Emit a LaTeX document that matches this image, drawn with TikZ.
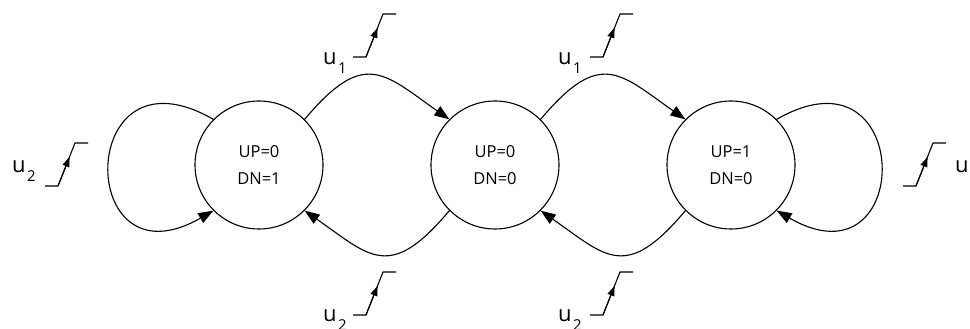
\documentclass[tikz,border=0pt]{standalone}
\usepackage{fontspec}
\setmainfont{Open Sans}
\usetikzlibrary{arrows.meta}
\newcommand\subf{\fontsize{15}{15}\selectfont}
\tikzset{
  state/.style={draw, circle, line width=1.1pt, minimum size=128pt, inner sep=0pt,
    align=center, font=\fontsize{16.5}{27}\selectfont},
  tr/.style={line width=1.1pt, -{Triangle[length=15pt,width=11pt]}},
  loopline/.style={line width=1.1pt, -{Triangle[length=15pt,width=11pt]}},
  lbl/.style={inner sep=0pt, anchor=base west, font=\fontsize{22}{22}\selectfont},
  edgesym/.pic={
    \draw[line width=1.1pt] (0,0) -- (13,0) -- (30,43) -- (43,43);
    \draw[line width=1.1pt, -{Triangle[length=10pt,width=7pt]}] (13,0) -- (24.6,29.2);
  }
}
\begin{document}
\begin{tikzpicture}[x=1pt,y=1pt]
\useasboundingbox (0,0) rectangle (970,329);
\node[state] (s1) at (259,164) {UP=0\\DN=1};
\node[state] (s2) at (495,164) {UP=0\\DN=0};
\node[state] (s3) at (731,164) {UP=1\\DN=0};
% transitions
\draw[tr] (s1.45) to[out=50,in=145,out distance=93pt,in distance=80pt] (s2.135);
\draw[tr] (s2.45) to[out=50,in=145,out distance=93pt,in distance=80pt] (s3.135);
\draw[tr] (s2.225) to[out=230,in=-35,out distance=93pt,in distance=80pt] (s1.-45);
\draw[tr] (s3.225) to[out=230,in=-35,out distance=93pt,in distance=80pt] (s2.-45);
\draw[loopline] (s1.135) to[out=150,in=210,distance=160pt] (s1.225);
\draw[loopline] (s3.45) to[out=30,in=-30,distance=160pt] (s3.-45);
% input symbols
\pic at (353,272) {edgesym};
\pic at (590,272) {edgesym};
\pic at (353,14) {edgesym};
\pic at (590,14) {edgesym};
\pic at (45,143) {edgesym};
\pic at (903,143) {edgesym};
% labels
\node[lbl] (l1) at (323,264) {u\kern1.5pt\raisebox{-9pt}{\subf 1}};
\node[lbl] (l2) at (558,264) {u\kern1.5pt\raisebox{-9pt}{\subf 1}};
\node[lbl] (l3) at (323,7) {u\kern1.5pt\raisebox{-9pt}{\subf 2}};
\node[lbl] (l4) at (558,7) {u\kern1.5pt\raisebox{-9pt}{\subf 2}};
\node[lbl] (l5) at (12,156) {u\kern1.5pt\raisebox{-9pt}{\subf 2}};
\node[lbl] (l6) at (955,156) {u};
\end{tikzpicture}
\end{document}
